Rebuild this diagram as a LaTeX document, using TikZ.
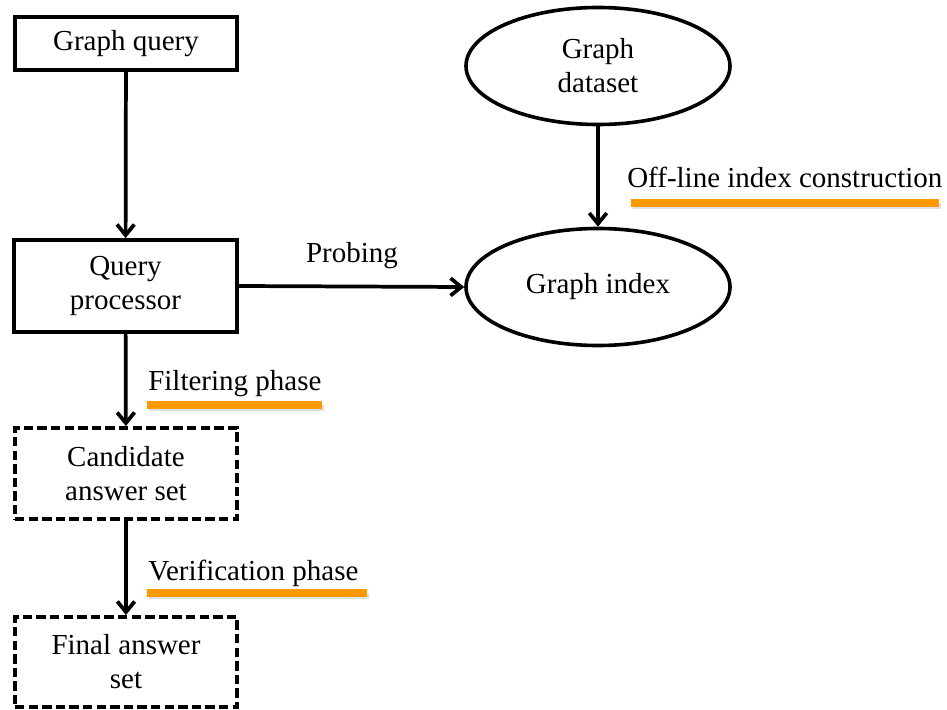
\documentclass[tikz,border=0pt]{standalone}
\usepackage{fontspec}
\setmainfont{Liberation Serif}
\usetikzlibrary{arrows.meta,shapes.geometric}
\definecolor{hlorange}{RGB}{255,153,0}
\begin{document}
\begin{tikzpicture}[x=0.75pt,y=-0.75pt,
  every node/.style={font=\fontsize{21.75pt}{25.5pt}\selectfont, inner sep=0pt},
  box/.style={draw, line width=2.9pt, rectangle, align=center},
  dbox/.style={box, dash pattern=on 7pt off 3.2pt},
  oval/.style={draw, line width=2.7pt, ellipse, align=center},
  flow/.style={line width=2.8pt, -{Straight Barb[length=8pt,width=13pt]}},
  phase/.style={anchor=base west},
  hlbar/.style={line width=5.5pt, draw=hlorange, line cap=butt},
  hlshade/.style={line width=5pt, draw=black, opacity=0.12}
]
\useasboundingbox (0,0) rectangle (947,710);

% query side
\node[box, minimum width=166.5pt, minimum height=39.75pt] (gq) at (126,43.5) {Graph query};
\node[box, minimum width=167.25pt, minimum height=69pt] (qp) at (125.5,286) {Query\\processor};
\node[dbox, minimum width=166.5pt, minimum height=68.25pt] (cand) at (126,473.5) {Candidate\\answer set};
\node[dbox, minimum width=166.5pt, minimum height=67.5pt] (fin) at (126,662) {Final answer\\set};

% index side
\node[oval, minimum width=198pt, minimum height=87.75pt] (gd) at (598,66) {Graph\\dataset};
\node[oval, minimum width=198pt, minimum height=87.75pt] (gi) at (598,287) {Graph index};

% connectors
\draw[flow] (gq) -- (qp);
\draw[flow] (qp.east) -- (gi.west);
\draw[flow] (gd) -- (gi);
\draw[flow] (qp) -- (cand);
\draw[flow] (cand) -- (fin);

% labels
\node[anchor=base] (probe) at (352,262) {Probing};
\node[phase] (filt) at (148,390) {Filtering phase};
\node[phase] (veri) at (148,580) {Verification phase};
\node[phase] (offl) at (627,187) {Off-line index construction};

% orange highlight bars with a soft shadow
\coordinate (f1) at (147,405); \coordinate (f2) at (322,405);
\coordinate (v1) at (147,593); \coordinate (v2) at (367,593);
\coordinate (o1) at (631,203); \coordinate (o2) at (939,203);
\draw[hlshade] ([shift={(2,3)}]f1) -- ([shift={(2,3)}]f2);
\draw[hlshade] ([shift={(2,3)}]v1) -- ([shift={(2,3)}]v2);
\draw[hlshade] ([shift={(2,3)}]o1) -- ([shift={(2,3)}]o2);
\draw[hlbar] (f1) -- (f2);
\draw[hlbar] (v1) -- (v2);
\draw[hlbar] (o1) -- (o2);
\end{tikzpicture}
\end{document}
